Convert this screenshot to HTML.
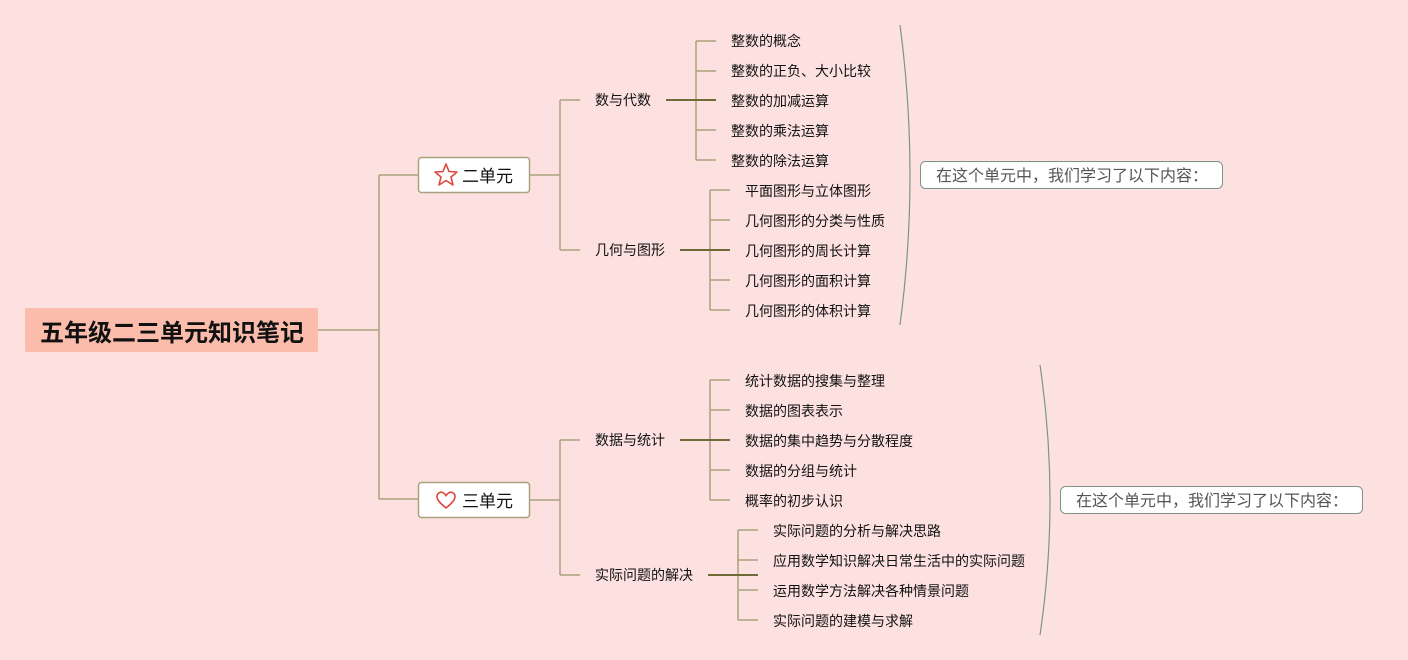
<!DOCTYPE html>
<html><head><meta charset="utf-8"><style>
html,body{margin:0;padding:0;background:#fde1e1;}
svg{display:block;font-family:"Liberation Sans","Noto Sans CJK SC",sans-serif;}
</style></head><body>
<svg width="1408" height="660" viewBox="0 0 1408 660" xmlns="http://www.w3.org/2000/svg">
<rect width="1408" height="660" fill="#fde1e1"/>
<g fill="none" stroke="#a9a27e" stroke-width="1.5">
<path d="M318 330H379M379 175V499M379 175H418M379 499H418"/>
<path d="M530 175H560M560 100V250M560 100H580M560 250H580"/>
<path d="M530 500H560M560 440V575M560 440H580M560 575H580"/>
<path d="M696 41V160M696 41H716M696 71H716M696 130H716M696 160H716"/>
<path d="M710 190V310M710 190H730M710 220H730M710 280H730M710 310H730"/>
<path d="M710 380V500M710 380H730M710 410H730M710 470H730M710 500H730"/>
<path d="M738 530V620M738 530H758M738 560H758M738 590H758M738 620H758"/>
</g>
<g fill="none" stroke="#6e6b38" stroke-width="2">
<path d="M666 100H716"/><path d="M680 250H730"/><path d="M680 440H730"/><path d="M708 575H758"/>
</g>
<g fill="none" stroke="#7d9585" stroke-width="1.2">
<path d="M900 25Q920 175 900 325"/>
<path d="M1040 365Q1060 500 1040 635"/>
</g>
<rect x="25" y="308" width="293" height="44" rx="2" fill="#fbbcab"/>
<text x="172" y="341" font-size="24" font-weight="bold" text-anchor="middle" fill="#111">五年级二三单元知识笔记</text>
<rect x="418.5" y="157.5" width="111" height="35" rx="3" fill="#fff" stroke="#a9a27e" stroke-width="1.5"/>
<path d="M446 164L449 171.5L457 172L451 177L453 185L446 180.5L439 185L441 177L435 172L443 171.5Z" fill="none" stroke="#e0473c" stroke-width="1.6" stroke-linejoin="round"/>
<text x="462" y="182" font-size="17" fill="#111">二单元</text>
<rect x="418.5" y="482.5" width="111" height="35" rx="3" fill="#fff" stroke="#a9a27e" stroke-width="1.5"/>
<path d="M446 508C440 503 437 500 437 496.5C437 493 441 491 443.5 493C445 494 446 495.5 446 495.5C446 495.5 447 494 448.5 493C451 491 455 493 455 496.5C455 500 452 503 446 508Z" fill="none" stroke="#e0473c" stroke-width="1.6"/>
<text x="462" y="507" font-size="17" fill="#111">三单元</text>
<g font-size="14" fill="#111">
<text x="595" y="105">数与代数</text>
<text x="595" y="255">几何与图形</text>
<text x="595" y="445">数据与统计</text>
<text x="595" y="580">实际问题的解决</text>
</g>
<g font-size="14" fill="#111">
<text x="731" y="46">整数的概念</text>
<text x="731" y="76">整数的正负、大小比较</text>
<text x="731" y="106">整数的加减运算</text>
<text x="731" y="136">整数的乘法运算</text>
<text x="731" y="166">整数的除法运算</text>
<text x="745" y="196">平面图形与立体图形</text>
<text x="745" y="226">几何图形的分类与性质</text>
<text x="745" y="256">几何图形的周长计算</text>
<text x="745" y="286">几何图形的面积计算</text>
<text x="745" y="316">几何图形的体积计算</text>
<text x="745" y="386">统计数据的搜集与整理</text>
<text x="745" y="416">数据的图表表示</text>
<text x="745" y="446">数据的集中趋势与分散程度</text>
<text x="745" y="476">数据的分组与统计</text>
<text x="745" y="506">概率的初步认识</text>
<text x="773" y="536">实际问题的分析与解决思路</text>
<text x="773" y="566">应用数学知识解决日常生活中的实际问题</text>
<text x="773" y="596">运用数学方法解决各种情景问题</text>
<text x="773" y="626">实际问题的建模与求解</text>
</g>
<rect x="920.5" y="161.5" width="302" height="27" rx="5" fill="#fff" stroke="#7d9585" stroke-width="1"/>
<text x="936" y="181" font-size="16" fill="#555">在这个单元中，我们学习了以下内容：</text>
<rect x="1060.5" y="486.5" width="302" height="27" rx="5" fill="#fff" stroke="#7d9585" stroke-width="1"/>
<text x="1076" y="506" font-size="16" fill="#555">在这个单元中，我们学习了以下内容：</text>
</svg>
</body></html>
